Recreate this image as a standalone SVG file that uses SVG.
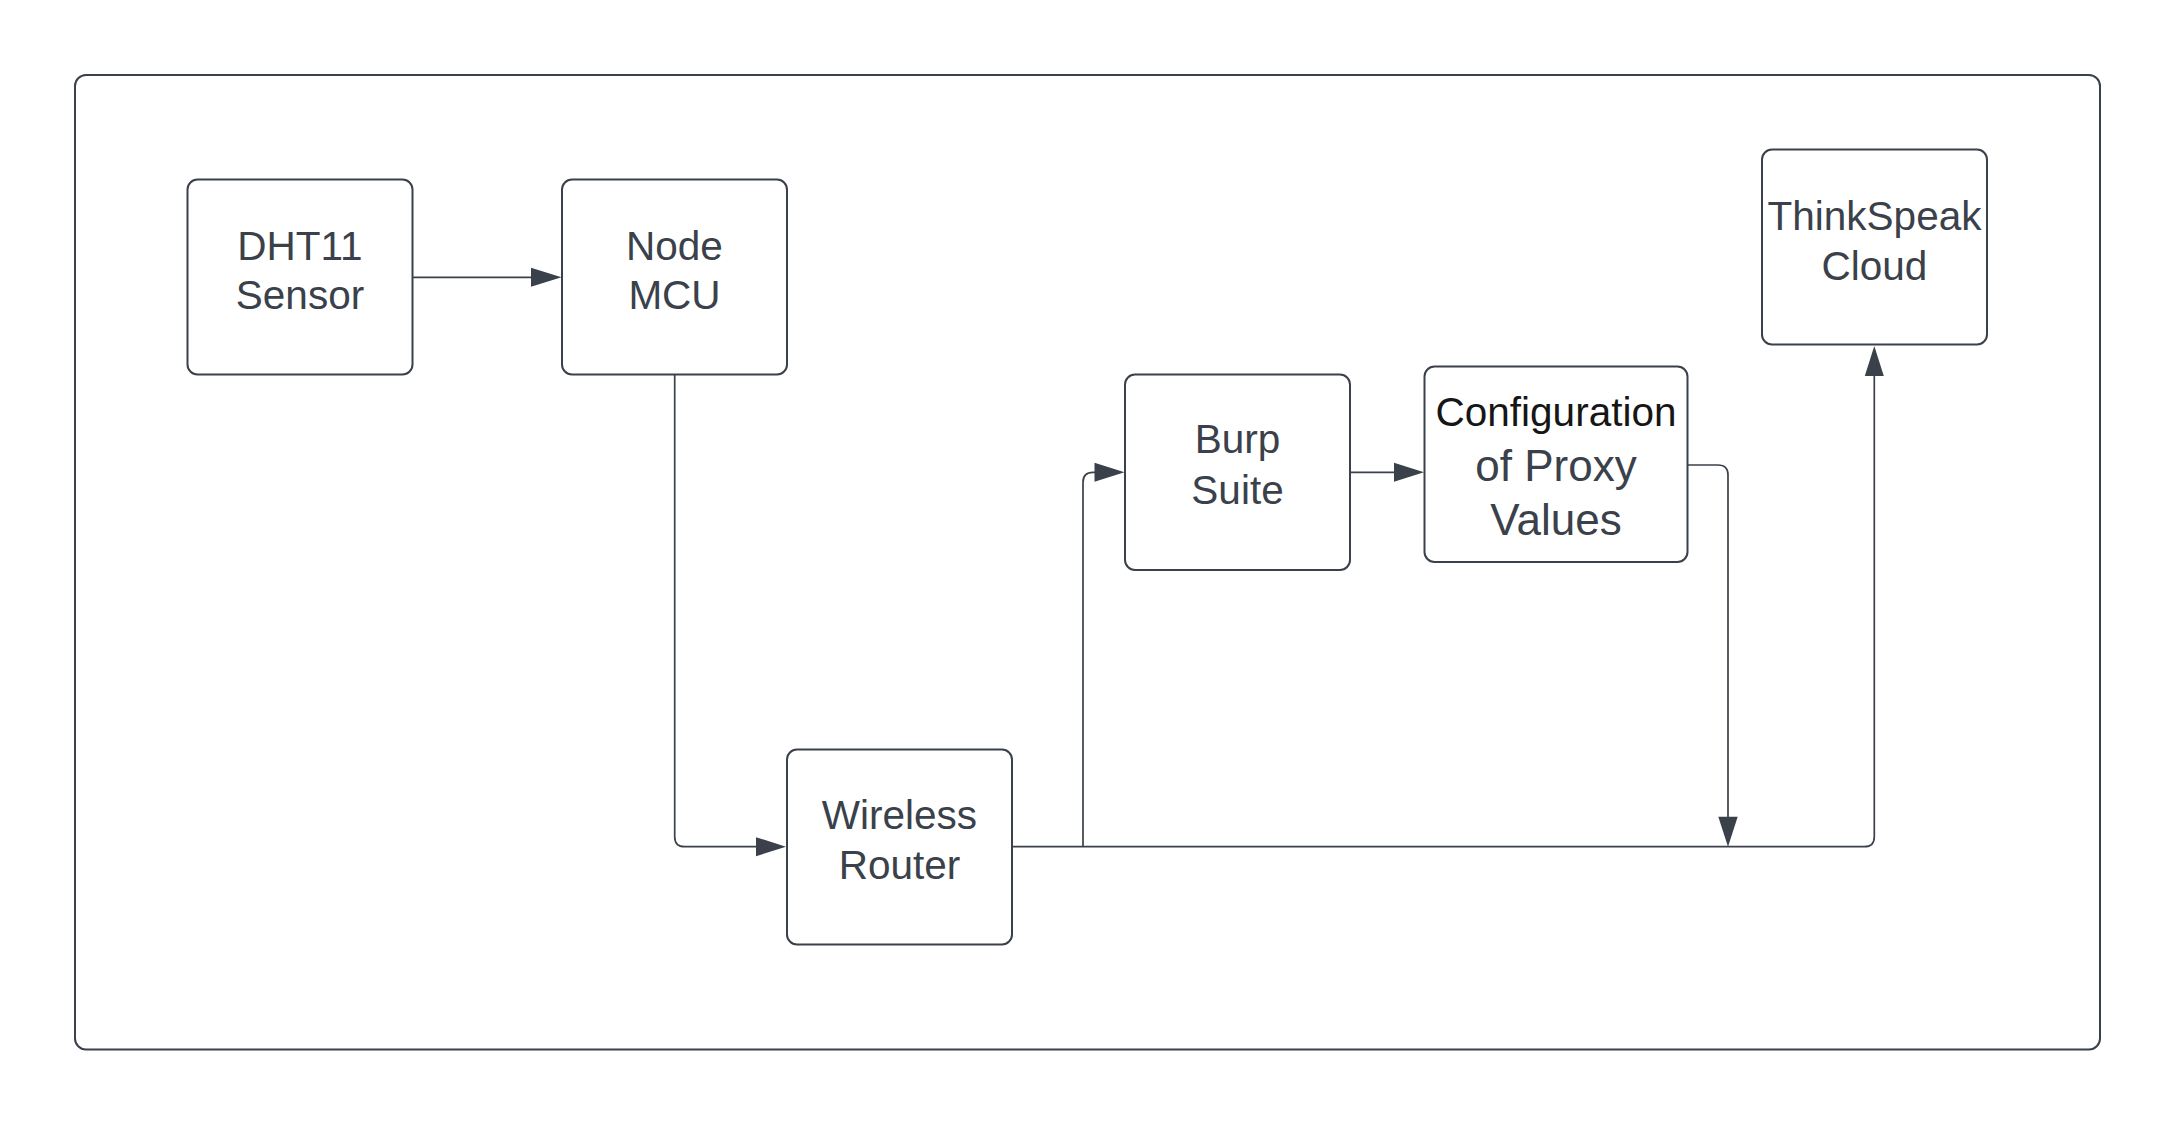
<svg xmlns="http://www.w3.org/2000/svg" width="2175" height="1125" viewBox="0 0 2175 1125">
  <style>
    .frame { fill: #ffffff; stroke: #3a414a; stroke-width: 2; }
    .box { fill: #ffffff; stroke: #3a414a; stroke-width: 2; }
    .lbl { font-family: "Liberation Sans", Arial, sans-serif; font-size: 40.5px; fill: #3a414a; text-anchor: middle; }
    .dark { fill: #161616; }
    .big { font-size: 44px; }
    .conn { fill: none; stroke: #3a414a; stroke-width: 1.7; }
    .head { fill: #3a414a; stroke: none; }
  </style>
  <rect x="0" y="0" width="2175" height="1125" fill="#ffffff"/>
  <rect id="frame" class="frame" x="75" y="75" width="2025" height="974.5" rx="11" ry="11"/>

  <g id="connectors">
    <!-- DHT11 -> Node MCU -->
    <path class="conn" d="M412 277.3 H532"/>
    <polygon class="head" points="531,267.8 561.5,277.3 531,286.8"/>
    <!-- Node MCU -> Wireless Router -->
    <path class="conn" d="M674.7 374.7 V836.7 Q674.7 846.7 684.7 846.7 H757"/>
    <polygon class="head" points="756,837.2 786,846.7 756,856.2"/>
    <!-- Wireless Router -> ThinkSpeak Cloud -->
    <path class="conn" d="M1012.3 846.7 H1864.3 Q1874.3 846.7 1874.3 836.7 V375"/>
    <polygon class="head" points="1864.8,376 1874.3,346 1883.8,376"/>
    <!-- branch -> Burp Suite -->
    <path class="conn" d="M1083 846.7 V482.3 Q1083 472.3 1093 472.3 H1095.5"/>
    <polygon class="head" points="1094.5,462.8 1124.5,472.3 1094.5,481.8"/>
    <!-- Burp Suite -> Configuration -->
    <path class="conn" d="M1350 472.3 H1395"/>
    <polygon class="head" points="1394,462.8 1424,472.3 1394,481.8"/>
    <!-- Configuration -> router line -->
    <path class="conn" d="M1687.3 465 H1718 Q1728 465 1728 475 V817.7"/>
    <polygon class="head" points="1718.3,816.7 1728,846.7 1737.7,816.7"/>
  </g>

  <g id="dht11">
    <rect class="box" x="187.5" y="179.5" width="225" height="195" rx="10" ry="10"/>
    <text class="lbl" x="300" y="259.5">DHT11</text>
    <text class="lbl" x="300" y="308.5">Sensor</text>
  </g>
  <g id="nodemcu">
    <rect class="box" x="562" y="179.5" width="225" height="195" rx="10" ry="10"/>
    <text class="lbl" x="674.5" y="259.5">Node</text>
    <text class="lbl" x="674.5" y="308.5">MCU</text>
  </g>
  <g id="router">
    <rect class="box" x="787" y="749.5" width="225" height="195" rx="10" ry="10"/>
    <text class="lbl" x="899.5" y="829">Wireless</text>
    <text class="lbl" x="899.5" y="879">Router</text>
  </g>
  <g id="burp">
    <rect class="box" x="1125" y="374.5" width="225" height="195.5" rx="10" ry="10"/>
    <text class="lbl" x="1237.5" y="452.7">Burp</text>
    <text class="lbl" x="1237.5" y="504">Suite</text>
  </g>
  <g id="config">
    <rect class="box" x="1424.5" y="366.5" width="263" height="195.5" rx="10" ry="10"/>
    <text class="lbl dark" x="1556" y="426">Configuration</text>
    <text class="lbl big" x="1556" y="480.7">of Proxy</text>
    <text class="lbl big" x="1556" y="535.3">Values</text>
  </g>
  <g id="thinkspeak">
    <rect class="box" x="1762" y="149.5" width="225" height="195" rx="10" ry="10"/>
    <text class="lbl" x="1874.5" y="230">ThinkSpeak</text>
    <text class="lbl" x="1874.5" y="280">Cloud</text>
  </g>
</svg>
